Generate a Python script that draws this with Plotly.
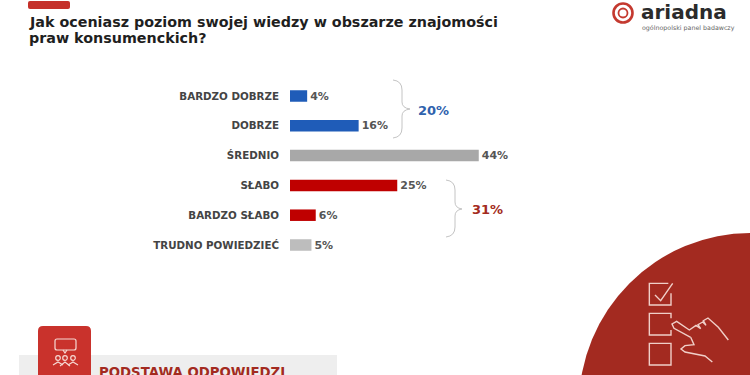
import plotly.graph_objects as go

categories = ["BARDZO DOBRZE", "DOBRZE", "ŚREDNIO", "SŁABO", "BARDZO SŁABO", "TRUDNO POWIEDZIEĆ"]
values = [4, 16, 44, 25, 6, 5]
value_labels = ["4%", "16%", "44%", "25%", "6%", "5%"]
bar_colors = ["#1f5cb8", "#1f5cb8", "#a8a8a8", "#bf0000", "#bf0000", "#bdbdbd"]
title_lines = ["Jak oceniasz poziom swojej wiedzy w obszarze znajomości", "praw konsumenckich?"]
group_labels = ["20%", "31%"]

W, H = 750, 375
FONT = "DejaVu Sans"
RED = "#a32a20"


def px(x):
    return x / W


def py(y):
    return 1 - y / H


def path(points, close=False):
    d = "M" + " L".join(f"{px(x):.5f},{py(y):.5f}" for x, y in points)
    return d + (" Z" if close else "")


def rounded(x0, y0, x1, y1, r):
    return (
        f"M{px(x0 + r):.5f},{py(y0):.5f} L{px(x1 - r):.5f},{py(y0):.5f} "
        f"Q{px(x1):.5f},{py(y0):.5f} {px(x1):.5f},{py(y0 + r):.5f} "
        f"L{px(x1):.5f},{py(y1 - r):.5f} Q{px(x1):.5f},{py(y1):.5f} {px(x1 - r):.5f},{py(y1):.5f} "
        f"L{px(x0 + r):.5f},{py(y1):.5f} Q{px(x0):.5f},{py(y1):.5f} {px(x0):.5f},{py(y1 - r):.5f} "
        f"L{px(x0):.5f},{py(y0 + r):.5f} Q{px(x0):.5f},{py(y0):.5f} {px(x0 + r):.5f},{py(y0):.5f} Z"
    )


def brace(x0, xs, xt, y0, ym, y1):
    c = lambda x, y: f"{px(x):.5f},{py(y):.5f}"
    return (
        f"M{c(x0, y0)} Q{c(xs, y0 + 1)} {c(xs, y0 + 10)} L{c(xs, ym - 7)} "
        f"Q{c(xs, ym - 1)} {c(xt, ym)} Q{c(xs, ym + 1)} {c(xs, ym + 7)} "
        f"L{c(xs, y1 - 10)} Q{c(xs, y1 - 1)} {c(x0, y1)}"
    )


def shape_path(d, fill=None, line=None, width=1, layer="below"):
    s = dict(type="path", xref="paper", yref="paper", path=d, layer=layer,
             line=dict(color=line or "rgba(0,0,0,0)", width=width if line else 0))
    if fill:
        s["fillcolor"] = fill
    return s


def shape_circle(cx, cy, r, fill=None, line=None, width=1, layer="below"):
    return dict(type="circle", xref="paper", yref="paper", layer=layer,
                x0=px(cx - r), x1=px(cx + r), y0=py(cy + r), y1=py(cy - r),
                fillcolor=fill or "rgba(0,0,0,0)",
                line=dict(color=line or "rgba(0,0,0,0)", width=width if line else 0))


def zoom5(pts):
    return [(570 + x / 3, 250 + y / 3) for x, y in pts]


ICON = "#f0cfc8"
shapes = [
    shape_path(rounded(28, 1, 70, 9, 2), fill="#c5302a"),
    shape_circle(751, 405, 172, fill=RED),
    shape_path(path([(19, 355), (337, 355), (337, 380), (19, 380)], True), fill="#eeeeee"),
    shape_path(rounded(38, 326, 91, 390, 5), fill="#c9322c"),
    # speech bubble and people icon
    shape_path(rounded(55, 339, 76, 350, 2), line="#f6d9d4", width=1.2),
    shape_path(path([(63, 350), (65, 353), (67, 350)]), line="#f6d9d4", width=1.2),
    shape_circle(58, 358, 2.3, line="#f6d9d4", width=1.2),
    shape_circle(65, 358, 2.3, line="#f6d9d4", width=1.2),
    shape_circle(73, 358, 2.3, line="#f6d9d4", width=1.2),
    shape_path(path([(53, 365), (58, 362), (63, 365)]), line="#f6d9d4", width=1.2),
    shape_path(path([(60, 366), (65, 362), (70, 366)]), line="#f6d9d4", width=1.2),
    shape_path(path([(68, 365), (73, 362), (78, 365)]), line="#f6d9d4", width=1.2),
    # checklist
    shape_path(path(zoom5([(303, 130), (303, 165), (238, 165), (238, 100), (295, 100)])), line=ICON, width=1.4),
    shape_path(path(zoom5([(255, 135), (272, 152), (308, 100)])), line=ICON, width=1.4),
    shape_path(path(zoom5([(303, 205), (303, 190), (238, 190), (238, 255), (303, 255), (303, 240)])), line=ICON, width=1.4),
    shape_path(path(zoom5([(238, 280), (303, 280), (303, 345), (238, 345)]), True), line=ICON, width=1.4),
    shape_path(path(zoom5([(362, 262), (312, 235), (306, 222), (320, 214), (358, 240), (378, 226),
                           (392, 236), (384, 224), (398, 216), (408, 226), (400, 212), (414, 204),
                           (445, 232), (475, 270)])), line=ICON, width=1.4),
    shape_path(path(zoom5([(362, 262), (372, 284), (345, 287), (333, 297), (345, 306), (405, 318), (427, 336)])),
               line=ICON, width=1.4),
    # braces
    shape_path(brace(393, 402, 410, 80, 109, 138), line="#c4c4c4", width=1),
    shape_path(brace(446, 455, 462, 180, 209, 237), line="#c4c4c4", width=1),
    # logo
    shape_circle(623, 13, 9.5, line="#c4392f", width=2.6),
    shape_circle(623, 13, 4.5, line="#c4392f", width=1.8),
]


def note(x, y, text, size, color, anchor="left", bold=True, family=FONT):
    return dict(xref="paper", yref="paper", x=px(x), y=py(y), text=f"<b>{text}</b>" if bold else text,
                xanchor=anchor, yanchor="middle", showarrow=False, align="left",
                font=dict(size=size, color=color, family=family))


annotations = [
    note(27, 21.5, title_lines[0], 14.3, "#1f1f1f"),
    note(27, 38, title_lines[1], 14.3, "#1f1f1f"),
    note(433, 110, group_labels[0], 13, "#2f62ad", "center"),
    note(487, 209, group_labels[1], 13, RED, "center"),
    note(97, 372, "PODSTAWA ODPOWIEDZI", 13.3, RED),
    note(639, 12, "ariadna", 20, "#2b2b2b"),
    note(640, 28, "ogólnopolski panel badawczy", 6.3, "#666666", bold=False),
]

fig = go.Figure(
    go.Bar(
        x=values,
        y=categories,
        orientation="h",
        marker=dict(color=bar_colors, line=dict(width=0)),
        text=[f"<b>{t}</b>" for t in value_labels],
        textposition="outside",
        constraintext="none",
        cliponaxis=False,
        textfont=dict(size=11, color="#555555", family=FONT),
        hoverinfo="skip",
    )
)

fig.update_layout(
    width=W,
    height=H,
    margin=dict(l=0, r=0, t=0, b=0),
    paper_bgcolor="white",
    plot_bgcolor="rgba(0,0,0,0)",
    showlegend=False,
    bargap=0.614,
    shapes=shapes,
    annotations=annotations,
    xaxis=dict(domain=[290 / W, 1], range=[0, 460 / 4.29], visible=False, fixedrange=True),
    yaxis=dict(
        domain=[0, 1],
        range=[(H - 96) / 29.8, -96 / 29.8],
        type="category",
        categoryorder="array",
        categoryarray=categories,
        showgrid=False,
        zeroline=False,
        showline=False,
        ticks="",
        ticklabelstandoff=10,
        tickfont=dict(size=10.3, color="#444444", family=FONT),
        tickprefix="<b>",
        ticksuffix="</b>",
        fixedrange=True,
    ),
)

fig.write_html(
    "out.html",
    config=dict(displayModeBar=False),
    post_script="document.body.style.margin='0';document.body.style.overflow='hidden';",
)
